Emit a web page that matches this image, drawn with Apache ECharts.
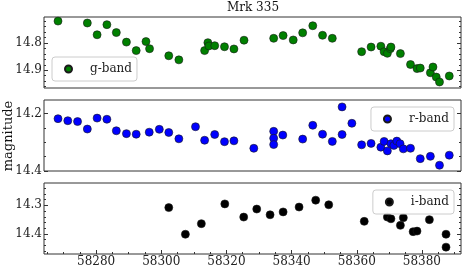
<!DOCTYPE html>
<html>
<head>
<meta charset="utf-8">
<script src="https://cdn.jsdelivr.net/npm/echarts@6/dist/echarts.min.js"></script>
<style>html,body{margin:0;padding:0;background:#fff}#c{width:463px;height:273px}</style>
</head>
<body>
<div id="c"></div>
<script>
// ---- data (MJD, magnitude) ----
const gMjd = [58268.3, 58277.3, 58280.3, 58283.3, 58286.2, 58289.3, 58292.3, 58295.3, 58296.4, 58302.3, 58305.4, 58313.3, 58314.3, 58314.6, 58316.4, 58319.4, 58322.3, 58325.4, 58334.5, 58337.4, 58340.5, 58343.4, 58346.5, 58349.5, 58352.5, 58361.5, 58364.4, 58367.4, 58368.4, 58369.4, 58370.3, 58370.5, 58373.4, 58376.5, 58378.5, 58379.5, 58382.6, 58383.4, 58384.4, 58385.4, 58388.4];
const gMag = [14.720, 14.727, 14.770, 14.733, 14.762, 14.797, 14.828, 14.795, 14.821, 14.847, 14.862, 14.828, 14.799, 14.811, 14.810, 14.814, 14.822, 14.790, 14.783, 14.773, 14.789, 14.763, 14.737, 14.772, 14.783, 14.832, 14.815, 14.812, 14.832, 14.838, 14.821, 14.815, 14.839, 14.879, 14.894, 14.892, 14.909, 14.888, 14.925, 14.943, 14.921];

const rMjd = [58268.3, 58271.3, 58274.3, 58277.3, 58280.3, 58283.3, 58286.2, 58289.3, 58292.3, 58296.3, 58299.4, 58302.3, 58305.4, 58310.5, 58313.3, 58316.4, 58319.4, 58322.3, 58328.4, 58334.5, 58334.5, 58334.5, 58337.3, 58343.4, 58346.5, 58349.5, 58352.5, 58355.5, 58355.5, 58358.5, 58361.5, 58364.4, 58367.4, 58368.4, 58369.4, 58370.5, 58371.4, 58372.3, 58373.3, 58374.3, 58376.5, 58379.5, 58382.6, 58385.4, 58388.4];
const rMag = [14.218, 14.225, 14.228, 14.254, 14.216, 14.220, 14.260, 14.270, 14.272, 14.265, 14.255, 14.266, 14.288, 14.246, 14.293, 14.273, 14.298, 14.295, 14.321, 14.262, 14.286, 14.308, 14.275, 14.289, 14.241, 14.272, 14.297, 14.177, 14.273, 14.234, 14.309, 14.304, 14.317, 14.297, 14.330, 14.305, 14.311, 14.296, 14.305, 14.323, 14.321, 14.357, 14.349, 14.380, 14.345];

const iMjd = [58302.3, 58307.4, 58312.3, 58319.5, 58325.3, 58329.3, 58333.4, 58337.4, 58342.3, 58347.4, 58351.4, 58362.3, 58369.4, 58370.5, 58373.4, 58374.3, 58377.3, 58378.5, 58382.3, 58387.4, 58387.4];
const iMag = [14.308, 14.401, 14.364, 14.295, 14.341, 14.313, 14.333, 14.323, 14.306, 14.282, 14.298, 14.356, 14.341, 14.347, 14.370, 14.343, 14.392, 14.390, 14.350, 14.401, 14.446];

// ---- ticks ----
const xMajorTicks = [58280, 58300, 58320, 58340, 58360, 58380];
const xMinorTicks = [58265, 58270, 58275, 58285, 58290, 58295, 58305, 58310, 58315, 58325, 58330, 58335, 58345, 58350, 58355, 58365, 58370, 58375, 58385, 58390];
const gMajorTicks = [14.8, 14.9];
const gMinorTicks = [14.72, 14.74, 14.76, 14.78, 14.82, 14.84, 14.86, 14.88, 14.92, 14.94, 14.96];
const rMajorTicks = [14.2, 14.4];
const rMinorTicks = [14.25, 14.3, 14.35];
const iMajorTicks = [14.3, 14.4];
const iMinorTicks = [14.24, 14.26, 14.28, 14.32, 14.34, 14.36, 14.38, 14.42, 14.44, 14.46];

const FONT = 'DejaVu Serif';
const AX = '#333';
const X_MIN = 58264, X_MAX = 58392;
const ranges = [[14.705, 14.965], [14.153, 14.4], [14.222, 14.470]];

function pair(xs, ys) { return xs.map((x, i) => [x, ys[i]]); }

function yAxesFor(g, rng, majors, minors) {
  const base = { gridIndex: g, type: 'value', min: rng[0], max: rng[1], inverse: true,
    axisLine: { show: false }, splitLine: { show: false } };
  const tick = (vals, len) => ({ show: true, inside: true, length: len, customValues: vals,
    lineStyle: { color: AX, width: 1 } });
  return [
    Object.assign({}, base, { position: 'left', axisTick: tick(majors, 4),
      axisLabel: { show: true, customValues: majors, margin: 2, fontFamily: FONT, fontSize: 12, color: '#222',
        formatter: v => v.toFixed(1) } }),
    Object.assign({}, base, { position: 'left', axisTick: tick(minors, 2), axisLabel: { show: false } }),
    Object.assign({}, base, { position: 'right', axisTick: tick(majors, 4), axisLabel: { show: false } }),
    Object.assign({}, base, { position: 'right', axisTick: tick(minors, 2), axisLabel: { show: false } })
  ];
}

const grids = [
  { left: 44, right: 2, top: 17, height: 71 },
  { left: 44, right: 2, top: 100, height: 71 },
  { left: 44, right: 2, top: 183, height: 71 }
].map(g => Object.assign(g, { show: true, borderColor: AX, borderWidth: 1, backgroundColor: 'transparent' }));

const xAxes = [
  { gridIndex: 0, type: 'value', min: X_MIN, max: X_MAX, show: false },
  { gridIndex: 1, type: 'value', min: X_MIN, max: X_MAX, show: false },
  { gridIndex: 2, type: 'value', min: X_MIN, max: X_MAX, position: 'bottom',
    axisLine: { show: false }, splitLine: { show: false },
    axisTick: { show: true, inside: true, length: 4, customValues: xMajorTicks, lineStyle: { color: AX } },
    axisLabel: { show: true, customValues: xMajorTicks, margin: 2, fontFamily: FONT, fontSize: 12, color: '#222',
      formatter: v => String(v) } },
  { gridIndex: 2, type: 'value', min: X_MIN, max: X_MAX, position: 'bottom',
    axisLine: { show: false }, splitLine: { show: false },
    axisTick: { show: true, inside: true, length: 2, customValues: xMinorTicks, lineStyle: { color: AX } },
    axisLabel: { show: false } }
];

const yAxes = [].concat(
  yAxesFor(0, ranges[0], gMajorTicks, gMinorTicks),
  yAxesFor(1, ranges[1], rMajorTicks, rMinorTicks),
  yAxesFor(2, ranges[2], iMajorTicks, iMinorTicks)
);

const legendBase = {
  orient: 'horizontal', itemWidth: 7, itemHeight: 7, icon: 'circle', selectedMode: false,
  padding: [6, 5, 6, 12], borderColor: '#cccccc', borderWidth: 1, borderRadius: 3,
  backgroundColor: 'rgba(255,255,255,0.85)',
  textStyle: { fontFamily: FONT, fontSize: 12, color: '#222', padding: [0, 0, 0, 13] }
};

const mk = (name, data, xi, yi, color) => ({
  name, type: 'scatter', xAxisIndex: xi, yAxisIndex: yi, data,
  symbol: 'circle', symbolSize: 8,
  itemStyle: { color, borderColor: '#1a1a1a', borderWidth: 0.6, opacity: 1 },
  emphasis: { disabled: true }, animation: false
});

const chart = echarts.init(document.getElementById('c'), null, { renderer: 'canvas' });
chart.setOption({
  animation: false,
  backgroundColor: '#ffffff',
  title: { text: 'Mrk 335', left: 227, top: 2, padding: 0,
    textStyle: { fontFamily: FONT, fontSize: 12, fontWeight: 'normal', color: '#111' } },
  grid: grids,
  xAxis: xAxes,
  yAxis: yAxes,
  legend: [
    Object.assign({}, legendBase, { data: ['g-band'], left: 52, top: 57 }),
    Object.assign({}, legendBase, { data: ['r-band'], right: 9, top: 107 }),
    Object.assign({}, legendBase, { data: ['i-band'], right: 9, top: 190 })
  ],
  graphic: [{
    type: 'text', x: 9, y: 136, rotation: Math.PI / 2,
    style: { text: 'magnitude', fontFamily: FONT, fontSize: 13, fill: '#111',
      textAlign: 'center', textVerticalAlign: 'middle' }
  }],
  series: [
    mk('g-band', pair(gMjd, gMag), 0, 0, '#008000'),
    mk('r-band', pair(rMjd, rMag), 1, 4, '#0000ff'),
    mk('i-band', pair(iMjd, iMag), 2, 8, '#000000')
  ]
});
</script>
</body>
</html>
